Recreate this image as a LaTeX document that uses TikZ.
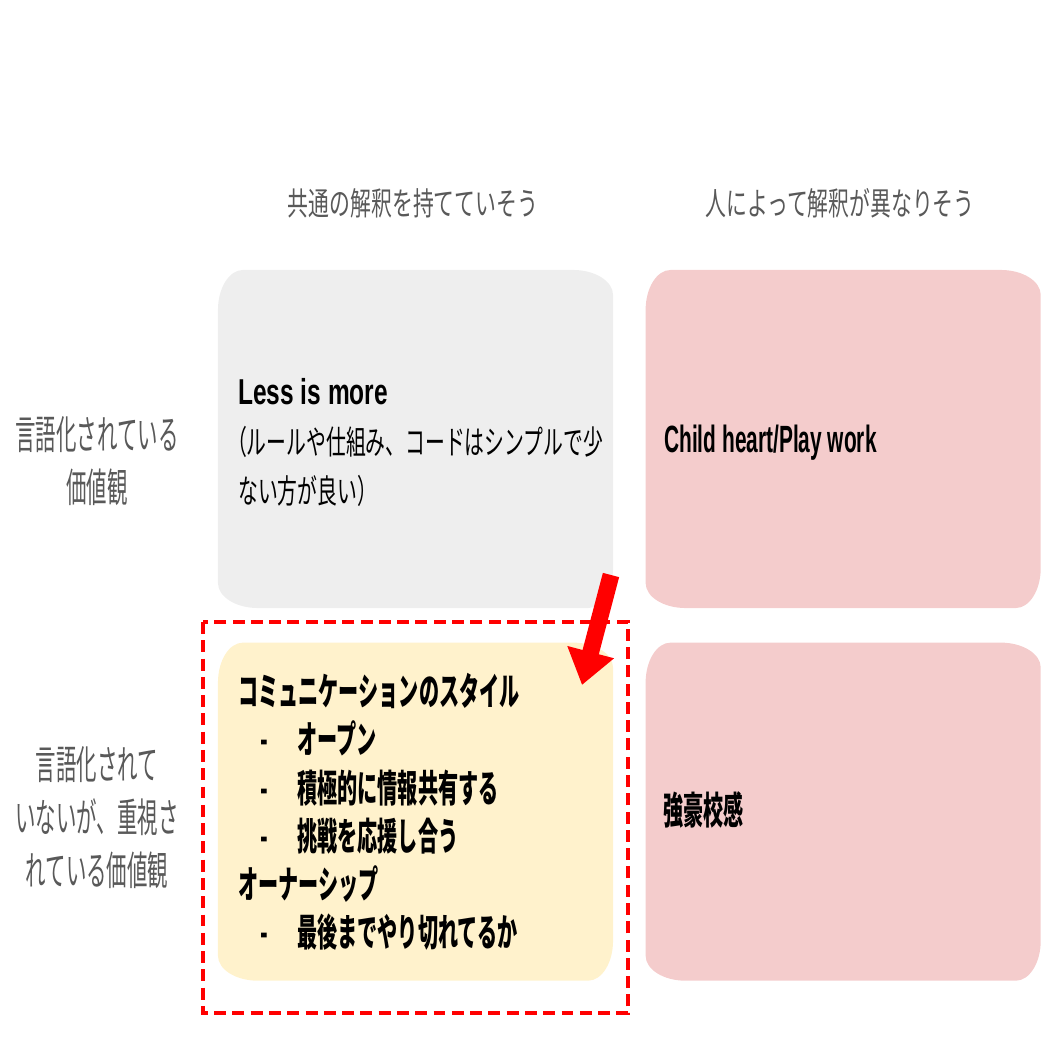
\documentclass[tikz,border=0pt]{standalone}
\usepackage{fontspec}
\usepackage{xcolor}
\usetikzlibrary{arrows.meta, positioning, calc}

\newfontfamily\hdfont[FakeStretch=0.65]{Noto Sans CJK JP}
\newfontfamily\lblfont[FakeStretch=0.51]{Noto Sans CJK JP}
\newfontfamily\bodyfont[FakeStretch=0.60]{Noto Sans CJK JP}
\newfontfamily\boldjp[FakeStretch=0.53]{Noto Sans CJK JP}
\newfontfamily\lessfont[FakeStretch=0.68]{Liberation Sans}
\newfontfamily\childfont[FakeStretch=0.55]{Liberation Sans}

\definecolor{hdgray}{HTML}{595959}
\definecolor{boxgray}{HTML}{EEEEEE}
\definecolor{boxpink}{HTML}{F4CCCC}
\definecolor{boxyellow}{HTML}{FFF2CC}

\makeatletter
\tikzset{ellcorners/.code 2 args={\tikz@addoption{\pgfsetcornersarced{\pgfpoint{#1}{#2}}}}}
\makeatother

\newcommand{\bul}[1]{\hspace*{15.6pt}\makebox[26.4pt][l]{-}#1}

\begin{document}
\begin{tikzpicture}[
            x=0.025cm, y=-0.025cm,
            node distance=0.85cm and 0.8cm,
            cell/.style={
				rectangle,
				ellcorners={0.625cm}{1cm},
				minimum width=9.875cm,
				minimum height=8.45cm,
				inner sep=0pt
			},
            hdr/.style={
				font=\hdfont\fontsize{22.8pt}{30pt}\selectfont,
				text=hdgray,
				inner sep=0pt
			},
            lbl/.style={
				font=\lblfont\fontsize{28.5pt}{37.7pt}\selectfont,
				text=hdgray,
				align=center,
				inner sep=0pt
			},
            body/.style={
				font=\bodyfont\fontsize{23.5pt}{35.2pt}\selectfont,
				align=left,
				anchor=west,
				inner sep=0pt
			},
            bodybold/.style={
				font=\boldjp\bfseries\fontsize{27pt}{34.3pt}\selectfont,
				align=left,
				anchor=west,
				inner sep=0pt
			},
            bigarrow/.style={
				draw=red,
				line width=0.42cm,
				-{Triangle[width=1.15cm, length=0.85cm]}
			},
            dashbox/.style={
				draw=red,
				line width=2.8pt,
				dash pattern=on 8.5pt off 4.5pt
			}
        ]

        \useasboundingbox (0,0) rectangle (1058,1058);

        % quadrants
        \node (lessBox) [cell, fill=boxgray] at (415.5,439) {};
        \node (childBox) [cell, fill=boxpink, right=of lessBox] {};
        \node (commBox) [cell, fill=boxyellow, below=of lessBox] {};
        \node (strongBox) [cell, fill=boxpink, below=of childBox] {};

        % column heads
        \node (hdCommon) [hdr] at (413,203) {共通の解釈を持てていそう};
        \node (hdPerson) [hdr] at (840,203) {人によって解釈が異なりそう};

        % row heads
        \node (lblSpoken) [lbl] at (97,461) {言語化されている\\価値観};
        \node (lblUnspoken) [lbl] at (97,818) {言語化されて\\いないが、重視さ\\れている価値観};

        % box texts
        \node (lessTxt) [body] at (238,443) {{\lessfont\bfseries\fontsize{25.6pt}{30pt}\selectfont Less is more}\\\hspace*{-8pt}（ルールや仕組み、コードはシンプルで少\\ない方が良い）};
        \node (childTxt) [anchor=base west, inner sep=0pt, font=\childfont\bfseries\fontsize{27pt}{32pt}\selectfont] at (664,452) {Child heart/Play work};
        \node (commTxt) [bodybold] at (238,812) {コミュニケーションのスタイル\\\bul{オープン}\\\bul{積極的に情報共有する}\\\bul{挑戦を応援し合う}\\オーナーシップ\\\bul{最後までやり切れてるか}};
        \node (strongTxt) [bodybold] at (663,810) {強豪校感};

        % highlight
        \draw [dashbox] (203,622) rectangle (628,1013);

        \coordinate (arrTail) at (611,575);
        \coordinate (arrTip) at (582,685);
        \draw [bigarrow] (arrTail) -- (arrTip);

        \end{tikzpicture}
\end{document}
